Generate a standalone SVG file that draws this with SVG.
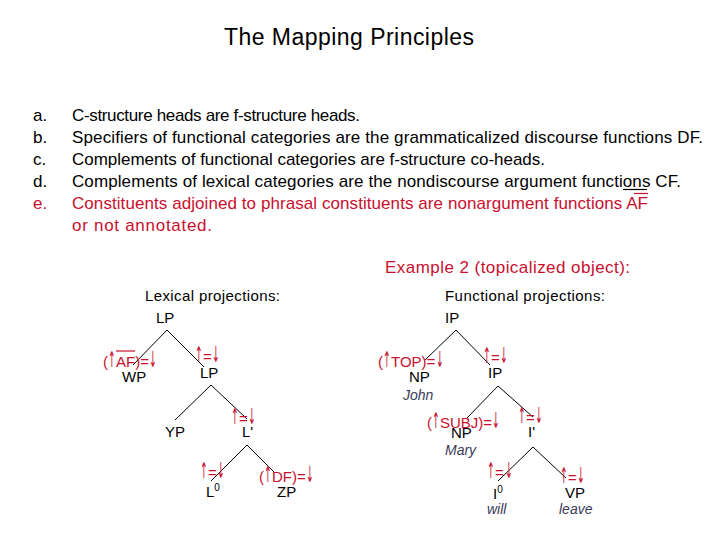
<svg xmlns="http://www.w3.org/2000/svg" xmlns:xlink="http://www.w3.org/1999/xlink" width="720" height="540" viewBox="0 0 720 540">
<style>
text{font-family:"Liberation Sans",Arial,sans-serif;}
.t{font-size:23px;fill:#000;}
.l{font-size:17px;fill:#000;}
.r{fill:#c8102e;}
.n{font-size:15px;fill:#000;}
.a{font-size:15px;fill:#c8102e;}
.arw{font-family:"DejaVu Sans",sans-serif;font-size:22px;fill:#c8102e;}
.w{font-size:14px;font-style:italic;fill:#3a3a5a;}
.e{stroke:#000;stroke-width:1;fill:none;}
.ov{stroke-width:1.2;}
</style>
<defs>
<text id="up" class="arw" transform="scale(0.42,1)">↑</text>
<text id="dn" class="arw" transform="scale(0.42,1)">↓</text>
</defs>
<rect width="720" height="540" fill="#fff"/>
<text class="t" x="224" y="45" textLength="250">The Mapping Principles</text>
<g id="list">
<text class="l" x="33" y="121">a.</text>
<text class="l" x="72" y="121" textLength="288">C-structure heads are f-structure heads.</text>
<text class="l" x="33" y="143">b.</text>
<text class="l" x="72" y="143" textLength="631">Specifiers of functional categories are the grammaticalized discourse functions DF.</text>
<text class="l" x="33" y="165">c.</text>
<text class="l" x="72" y="165" textLength="473">Complements of functional categories are f-structure co-heads.</text>
<text class="l" x="33" y="187">d.</text>
<text class="l" x="72" y="187" textLength="609">Complements of lexical categories are the nondiscourse argument functions CF.</text>
<text class="l r" x="33" y="209">e.</text>
<text class="l r" x="72" y="209" textLength="576">Constituents adjoined to phrasal constituents are nonargument functions AF</text>
<text class="l r" x="72" y="231" textLength="140">or not annotated.</text>
<line x1="623" y1="189.5" x2="647" y2="189.5" stroke="#000" class="ov"/>
<line x1="634" y1="193.5" x2="648" y2="193.5" stroke="#c8102e" class="ov"/>
</g>
<text class="l r" x="385" y="273" textLength="245">Example 2 (topicalized object):</text>
<text class="n" x="145" y="301" textLength="135">Lexical projections:</text>
<text class="n" x="445" y="301" textLength="160">Functional projections:</text>
<g id="connectors">
<line class="e" x1="167" y1="330" x2="133" y2="365"/>
<line class="e" x1="167" y1="330" x2="204" y2="367"/>
<line class="e" x1="211" y1="385" x2="175" y2="420"/>
<line class="e" x1="211" y1="385" x2="247" y2="419"/>
<line class="e" x1="247" y1="445" x2="211" y2="481"/>
<line class="e" x1="247" y1="445" x2="275" y2="473"/>
<line class="e" x1="456" y1="330" x2="425" y2="360"/>
<line class="e" x1="456" y1="330" x2="490" y2="365"/>
<line class="e" x1="498" y1="386" x2="467" y2="418"/>
<line class="e" x1="498" y1="386" x2="533" y2="417"/>
<line class="e" x1="533" y1="447" x2="498" y2="481"/>
<line class="e" x1="533" y1="447" x2="566" y2="478"/>
</g>
<g id="LP1"><text class="n" x="156" y="323">LP</text></g>
<g id="WP">
<text class="a" x="103" y="367">(</text><use xlink:href="#up" href="#up" x="108" y="367"/><text class="a" x="116" y="367">AF)=</text><use xlink:href="#dn" href="#dn" x="149" y="367"/>
<line x1="116" y1="351" x2="135" y2="351" stroke="#c8102e" class="ov"/>
<text class="n" x="122" y="382">WP</text></g>
<g id="LP2"><use xlink:href="#up" href="#up" x="195" y="362"/><text class="a" x="203" y="362">=</text><use xlink:href="#dn" href="#dn" x="212" y="362"/><text class="n" x="200" y="378">LP</text></g>
<g id="YP"><text class="n" x="165" y="437">YP</text></g>
<g id="Lbar"><use xlink:href="#up" href="#up" x="231" y="424"/><text class="a" x="239" y="424">=</text><use xlink:href="#dn" href="#dn" x="248" y="424"/><text class="n" x="242" y="437">L'</text></g>
<g id="L0"><use xlink:href="#up" href="#up" x="200" y="478"/><text class="a" x="208" y="478">=</text><use xlink:href="#dn" href="#dn" x="217" y="478"/><text class="n" x="206" y="497">L<tspan font-size="10" dy="-6">0</tspan></text></g>
<g id="ZP"><text class="a" x="259" y="482">(</text><use xlink:href="#up" href="#up" x="264" y="482"/><text class="a" x="272" y="482">DF)=</text><use xlink:href="#dn" href="#dn" x="306" y="482"/><text class="n" x="277" y="497">ZP</text></g>
<g id="IP1"><text class="n" x="445" y="323">IP</text></g>
<g id="NP1"><text class="a" x="378" y="367">(</text><use xlink:href="#up" href="#up" x="383" y="367"/><text class="a" x="391" y="367">TOP)=</text><use xlink:href="#dn" href="#dn" x="436" y="367"/><text class="n" x="409" y="382">NP</text><text class="w" x="403" y="400">John</text></g>
<g id="IP2"><use xlink:href="#up" href="#up" x="483" y="363"/><text class="a" x="491" y="363">=</text><use xlink:href="#dn" href="#dn" x="500" y="363"/><text class="n" x="488" y="378">IP</text></g>
<g id="NP2"><text class="a" x="427" y="428">(</text><use xlink:href="#up" href="#up" x="432" y="428"/><text class="a" x="440" y="428">SUBJ)=</text><use xlink:href="#dn" href="#dn" x="492" y="428"/><text class="n" x="451" y="438">NP</text><text class="w" x="445" y="455">Mary</text></g>
<g id="Ibar"><use xlink:href="#up" href="#up" x="518" y="423"/><text class="a" x="526" y="423">=</text><use xlink:href="#dn" href="#dn" x="535" y="423"/><text class="n" x="528" y="437">I'</text></g>
<g id="I0"><use xlink:href="#up" href="#up" x="487" y="478"/><text class="a" x="495" y="478">=</text><use xlink:href="#dn" href="#dn" x="505" y="478"/><text class="n" x="493" y="499">I<tspan font-size="10" dy="-6">0</tspan></text><text class="w" x="487" y="514">will</text></g>
<g id="VP"><use xlink:href="#up" href="#up" x="560" y="483"/><text class="a" x="568" y="483">=</text><use xlink:href="#dn" href="#dn" x="577" y="483"/><text class="n" x="565" y="498">VP</text><text class="w" x="559" y="514">leave</text></g>
</svg>
